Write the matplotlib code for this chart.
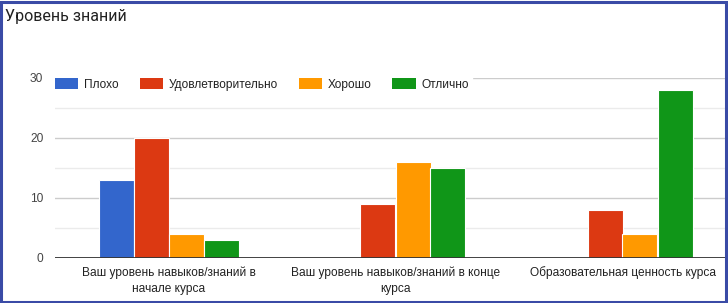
import matplotlib
matplotlib.use("Agg")
import matplotlib.pyplot as plt
import numpy as np
from matplotlib.patches import Rectangle, Patch

categories = ["Ваш уровень навыков/знаний в\nначале курса",
              "Ваш уровень навыков/знаний в конце\nкурса",
              "Образовательная ценность курса"]
series_names = ["Плохо", "Удовлетворительно", "Хорошо", "Отлично"]
plokho = [13, 0, 0]
udovl = [20, 9, 8]
khorosho = [4, 16, 4]
otlichno = [3, 15, 28]
colors = ["#3366cc", "#dc3912", "#ff9900", "#109618"]
yticks = [0, 10, 20, 30]

W, H = 728, 303
fig = plt.figure(figsize=(W / 100, H / 100), dpi=100)
fig.patch.set_facecolor("white")

left, right, y0, y30 = 55, 725, 258, 78
ax = fig.add_axes([left / W, (H - y0) / H, (right - left) / W, (y0 - y30) / H])

x = np.arange(len(categories))
bw = 35 / 227
values = [plokho, udovl, khorosho, otlichno]
for i, (vals, c) in enumerate(zip(values, colors)):
    ax.bar(x + (i - 1.5) * bw, vals, width=bw, color=c, edgecolor="white",
           linewidth=0.8, zorder=3)

ax.set_xlim(-0.5, -0.5 + (right - left) / 227)
ax.set_ylim(0, 30)
for v in [5, 15, 25]:
    ax.axhline(v, color="#ebebeb", lw=1, zorder=1)
for v in [10, 20, 30]:
    ax.axhline(v, color="#cccccc", lw=1, zorder=1)
ax.axhline(0, color="#333333", lw=1.3, zorder=4)

for s in ax.spines.values():
    s.set_visible(False)
ax.set_yticks(yticks)
ax.set_yticklabels([str(t) for t in yticks], fontsize=8.6, color="#444444",
                   family="Liberation Sans")
ax.tick_params(axis="y", length=0, pad=8.5)
ax.set_xticks(x)
ax.set_xticklabels(categories, fontsize=8.6, color="#222222", family="Liberation Sans",
                   linespacing=1.5)
ax.tick_params(axis="x", length=0, pad=6)

handles = [Patch(facecolor=c, edgecolor="none") for c in colors]
leg = ax.legend(handles, series_names, loc="upper left",
                bbox_to_anchor=(left / W - 0.003, (H - 76) / H),
                bbox_transform=fig.transFigure, ncol=4, frameon=True,
                framealpha=1, edgecolor="white", fancybox=False,
                prop={"family": "Liberation Sans", "size": 8.6},
                handlelength=1.95, handleheight=1.0, handletextpad=0.5,
                columnspacing=1.72, borderpad=0.2, borderaxespad=0)
for t in leg.get_texts():
    t.set_color("#222222")
leg.set_zorder(5)

fig.text(5 / W, 1 - 16 / H, "Уровень знаний", fontsize=11.5, color="#212121",
         family="Roboto", va="center", ha="left")

fig.patches.append(Rectangle((1 / W, 1 / H), (W - 3) / W, (H - 3) / H,
                             transform=fig.transFigure, fill=False,
                             edgecolor="#3a4ba6", lw=2.2))

fig.savefig("out.png", dpi=100, facecolor="white")
